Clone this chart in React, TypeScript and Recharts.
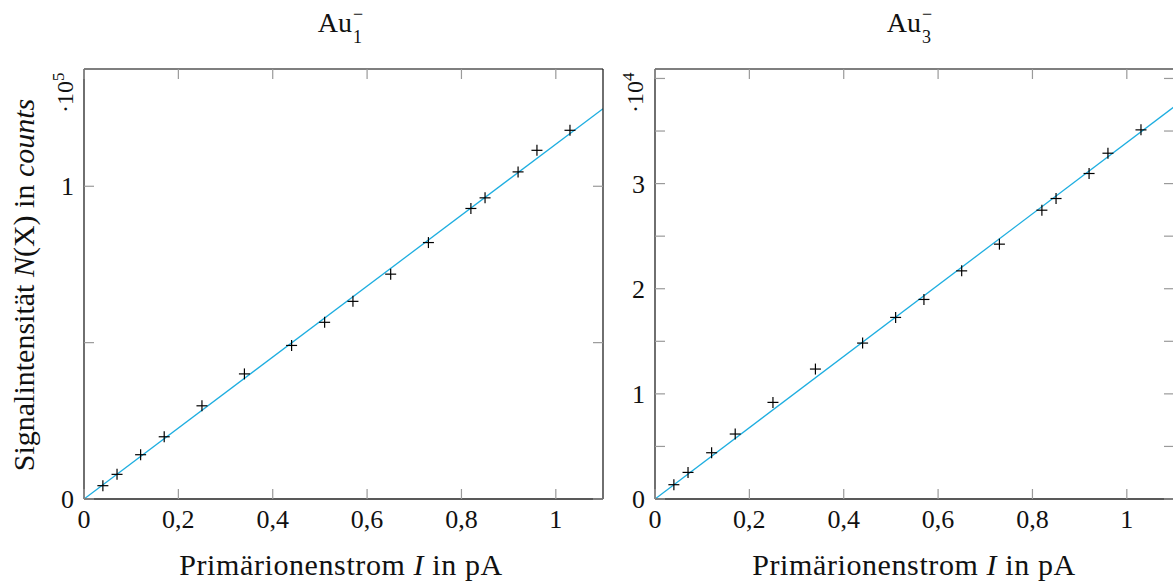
import React from 'react';
import { ComposedChart, Scatter, Line, XAxis, YAxis } from 'recharts';

// Primärionenstrom in pA (same for both panels)
const current = [0.04, 0.07, 0.12, 0.17, 0.25, 0.34, 0.44, 0.51, 0.57, 0.65, 0.73, 0.82, 0.85, 0.92, 0.96, 1.03];
// Au1- counts
const au1Counts = [4260, 7880, 14160, 19900, 29800, 40000, 49100, 56500, 63200, 71900, 82000, 92900, 96300, 104600, 111500, 117900];
// Au3- counts
const au3Counts = [1360, 2530, 4400, 6180, 9190, 12360, 14830, 17270, 18980, 21700, 24240, 27470, 28580, 30960, 32890, 35110];
// linear fits (start / end of the drawn line)
const fitX = [0, 1.1];
const au1Fit = [0, 124800];
const au3Fit = [0, 37300];

const xTicks = [0, 0.2, 0.4, 0.6, 0.8, 1];
const au1Ticks = [0, 50000, 100000];
const au1Labels: Record<number, string> = { 0: '0', 100000: '1' };
const au3Ticks = [0, 5000, 10000, 15000, 20000, 25000, 30000, 35000, 40000];
const au3Labels: Record<number, string> = { 0: '0', 10000: '1', 20000: '2', 30000: '3' };

const FONT = '"Liberation Serif", "DejaVu Serif", serif';
const TICK_COLOR = '#9a9a9a';
const FRAME = '#222';
const FIT_COLOR = '#1eaee0';

const fmtX = (v: number) => String(Math.round(v * 10) / 10).replace('.', ',');

const BottomTick = (p: any) => (
  <g>
    <line x1={p.x} x2={p.x} y1={p.y} y2={p.y - 10} stroke={TICK_COLOR} strokeWidth={1.2} />
    <text x={p.x} y={p.y + 29} textAnchor="middle" fontFamily={FONT} fontSize={26} fill="#111">
      {fmtX(p.payload.value)}
    </text>
  </g>
);

const TopTick = (p: any) => (
  <line x1={p.x} x2={p.x} y1={p.y} y2={p.y + 10} stroke={TICK_COLOR} strokeWidth={1.2} />
);

const makeLeftTick = (labels: Record<number, string>) => (p: any) => (
  <g>
    <line x1={p.x} x2={p.x + 10} y1={p.y} y2={p.y} stroke={TICK_COLOR} strokeWidth={1.2} />
    {labels[p.payload.value] !== undefined && (
      <text x={p.x - 10} y={p.y + 9} textAnchor="end" fontFamily={FONT} fontSize={26} fill="#111">
        {labels[p.payload.value]}
      </text>
    )}
  </g>
);

const RightTick = (p: any) => (
  <line x1={p.x} x2={p.x - 10} y1={p.y} y2={p.y} stroke={TICK_COLOR} strokeWidth={1.2} />
);

const Cross = (p: any) => {
  const { cx, cy } = p;
  if (cx == null || cy == null) return <g />;
  return (
    <g>
      <line x1={cx - 5.5} x2={cx + 5.5} y1={cy} y2={cy} stroke="#000" strokeWidth={1.2} />
      <line x1={cx} x2={cx} y1={cy - 5.5} y2={cy + 5.5} stroke="#000" strokeWidth={1.2} />
    </g>
  );
};

interface PanelProps {
  left: number;
  counts: number[];
  fit: number[];
  yMax: number;
  yTicks: number[];
  yLabels: Record<number, string>;
  marginLeft: number;
  marginRight: number;
}

// axes are 1px thick, the margins below put the plot box where it belongs
const Panel: React.FC<PanelProps> = ({ left, counts, fit, yMax, yTicks, yLabels, marginLeft, marginRight }) => {
  const points = current.map((x, i) => ({ x, y: counts[i] }));
  const line = fitX.map((x, i) => ({ x, y: fit[i] }));
  return (
    <div style={{ position: 'absolute', left, top: 0 }}>
      <ComposedChart
        width={620}
        height={585}
        margin={{ top: 68, left: marginLeft - 1, right: marginRight - 1, bottom: 85 }}
      >
        <XAxis
          xAxisId="bottom"
          dataKey="x"
          type="number"
          domain={[0, 1.1]}
          ticks={xTicks}
          interval={0}
          height={1}
          tickSize={0}
          tickMargin={0}
          tickLine={false}
          tick={BottomTick}
          axisLine={{ stroke: FRAME, strokeWidth: 1.3 }}
          allowDataOverflow
        />
        <XAxis
          xAxisId="top"
          orientation="top"
          dataKey="x"
          type="number"
          domain={[0, 1.1]}
          ticks={xTicks}
          interval={0}
          height={1}
          tickSize={0}
          tickMargin={0}
          tickLine={false}
          tick={TopTick}
          axisLine={{ stroke: '#555', strokeWidth: 1.3 }}
          allowDataOverflow
        />
        <YAxis
          yAxisId="left"
          type="number"
          domain={[0, yMax]}
          ticks={yTicks}
          interval={0}
          width={1}
          tickSize={0}
          tickMargin={0}
          tickLine={false}
          tick={makeLeftTick(yLabels)}
          axisLine={{ stroke: FRAME, strokeWidth: 1.3 }}
          allowDataOverflow
        />
        <YAxis
          yAxisId="right"
          orientation="right"
          type="number"
          domain={[0, yMax]}
          ticks={yTicks}
          interval={0}
          width={1}
          tickSize={0}
          tickMargin={0}
          tickLine={false}
          tick={RightTick}
          axisLine={{ stroke: FRAME, strokeWidth: 1.3 }}
          allowDataOverflow
        />
        <Line
          xAxisId="top"
          yAxisId="right"
          data={line}
          dataKey="y"
          type="linear"
          stroke={FIT_COLOR}
          strokeWidth={1.3}
          dot={false}
          activeDot={false}
          isAnimationActive={false}
        />
        <Scatter
          xAxisId="bottom"
          yAxisId="left"
          data={points}
          dataKey="y"
          shape={Cross}
          isAnimationActive={false}
        />
      </ComposedChart>
    </div>
  );
};

const Labels = () => (
  <svg
    width={1173}
    height={585}
    style={{ position: 'absolute', left: 0, top: 0, pointerEvents: 'none' }}
    fontFamily={FONT}
    fill="#111"
  >
    {/* titles */}
    <text x={352} y={32} textAnchor="end" fontSize={28}>Au</text>
    <text x={353} y={20} fontSize={18}>−</text>
    <text x={353} y={43} fontSize={18}>1</text>
    <text x={921} y={32} textAnchor="end" fontSize={28}>Au</text>
    <text x={922} y={20} fontSize={18}>−</text>
    <text x={922} y={43} fontSize={18}>3</text>

    {/* x labels */}
    <text x={341} y={575} textAnchor="middle" fontSize={30} letterSpacing={0.6}>
      Primärionenstrom <tspan fontStyle="italic">I</tspan> in pA
    </text>
    <text x={914} y={575} textAnchor="middle" fontSize={30} letterSpacing={0.6}>
      Primärionenstrom <tspan fontStyle="italic">I</tspan> in pA
    </text>

    {/* y label */}
    <text transform="translate(34,285) rotate(-90)" textAnchor="middle" fontSize={30}>
      Signalintensität <tspan fontStyle="italic">N</tspan>(X) in <tspan fontStyle="italic">counts</tspan>
    </text>

    {/* scale multipliers */}
    <text transform="translate(73,113) rotate(-90)" fontSize={24}>
      ·10<tspan dy={-9} fontSize={17}>5</tspan>
    </text>
    <text transform="translate(643,113) rotate(-90)" fontSize={24}>
      ·10<tspan dy={-9} fontSize={17}>4</tspan>
    </text>
  </svg>
);

export default function App() {
  return (
    <div
      style={{
        position: 'fixed',
        left: 0,
        top: 0,
        width: 1173,
        height: 585,
        overflow: 'hidden',
        background: '#fff',
      }}
    >
      <Panel
        left={0}
        counts={au1Counts}
        fit={au1Fit}
        yMax={137500}
        yTicks={au1Ticks}
        yLabels={au1Labels}
        marginLeft={84}
        marginRight={17}
      />
      <Panel
        left={600}
        counts={au3Counts}
        fit={au3Fit}
        yMax={40900}
        yTicks={au3Ticks}
        yLabels={au3Labels}
        marginLeft={55}
        marginRight={46}
      />
      <Labels />
    </div>
  );
}
